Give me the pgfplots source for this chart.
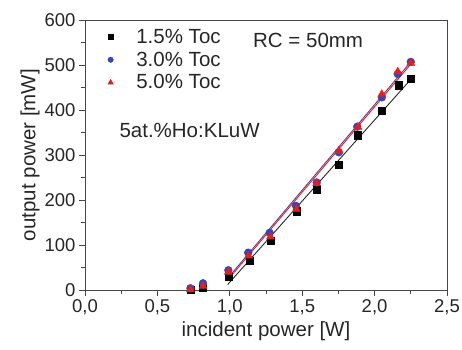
\documentclass[border=0pt]{standalone}
\usepackage{pgfplots}
\pgfplotsset{compat=1.18}
\usepackage{fontspec}
\setmainfont{Liberation Sans}
\definecolor{cblue}{RGB}{50,70,185}
\definecolor{cred}{RGB}{228,30,30}
\definecolor{frame}{RGB}{70,70,70}
\begin{document}
\begin{tikzpicture}
\useasboundingbox (-85pt,-59pt) rectangle (377pt,290pt);
\begin{axis}[
  at={(0,0)}, anchor=south west,
  width=362pt, height=270pt, scale only axis,
  xmin=0, xmax=2.5, ymin=0, ymax=600,
  xtick={0,0.5,...,2.5}, ytick={0,100,...,600},
  minor x tick num=1, minor y tick num=1,
  xtick pos=bottom, ytick pos=left, tick align=outside,
  major tick length=6pt, minor tick length=3.5pt,
  axis line style={frame, line width=0.9pt},
  every tick/.style={frame, line width=0.8pt},
  /pgf/number format/assume math mode=true,
  xticklabel style={/pgf/number format/.cd, use comma, fixed, fixed zerofill, precision=1},
  yticklabel style={/pgf/number format/.cd, fixed},
  ticklabel style={font=\fontsize{18.5}{20}\selectfont, text=black!85},
  xlabel={incident power [W]}, ylabel={output power [mW]},
  label style={font=\fontsize{20.5}{23}\selectfont, text=black!85},
  xlabel style={yshift=0pt},
  ylabel style={yshift=-2pt},
  legend style={at={(axis description cs:0.02,0.978)}, anchor=north west, draw=none, fill=none,
    font=\fontsize{20.5}{22}\selectfont, text=black!85, row sep=3pt, inner sep=1pt},
  legend cell align=left,
  legend image code/.code={\draw[#1, every mark/.append style={scale=0.7}, mark repeat=1] plot coordinates {(17pt,0pt)};\path (0pt,0pt) (40.5pt,0pt);},
]
\addplot[only marks, mark=square*, mark size=3.6pt, black] coordinates {
(0.728,0) (0.815,5) (0.993,30) (1.137,66) (1.282,109) (1.46,175) (1.60,224) (1.753,279) (1.883,344) (2.05,398) (2.164,455) (2.252,469)};
\addlegendentry{1.5\% Toc}
\addplot[only marks, mark=*, mark size=3.9pt, cblue, mark options={draw=cblue, fill=cblue}] coordinates {
(0.728,4) (0.815,15) (0.99,44) (1.127,83) (1.275,127) (1.457,187) (1.60,239) (1.753,306) (1.88,363) (2.05,428) (2.16,480) (2.25,507)};
\addlegendentry{3.0\% Toc}
\addplot[only marks, mark=triangle*, mark size=4.6pt, cred, mark options={draw=cred, fill=cred}] coordinates {
(0.728,1) (0.815,8) (0.99,40) (1.13,76) (1.28,118) (1.46,180) (1.60,237) (1.753,309) (1.885,362) (2.05,435) (2.16,485) (2.25,504)};
\addlegendentry{5.0\% Toc}
\addplot[black!85, line width=0.9pt, forget plot] coordinates {(0.985,12) (2.25,468)};
\addplot[cred, line width=0.9pt, forget plot] coordinates {(0.98,20) (2.25,502)};
\addplot[cblue!80!red, line width=0.9pt, forget plot] coordinates {(0.98,24) (2.25,507)};
\node[anchor=west, inner sep=0pt, font=\fontsize{20.5}{23}\selectfont, text=black!85] at (axis cs:1.160,555) {RC = 50mm};
\node[anchor=west, inner sep=0pt, font=\fontsize{20.5}{23}\selectfont, text=black!85] at (axis cs:0.237,355) {5at.\%Ho:KLuW};
\end{axis}
\end{tikzpicture}
\end{document}
